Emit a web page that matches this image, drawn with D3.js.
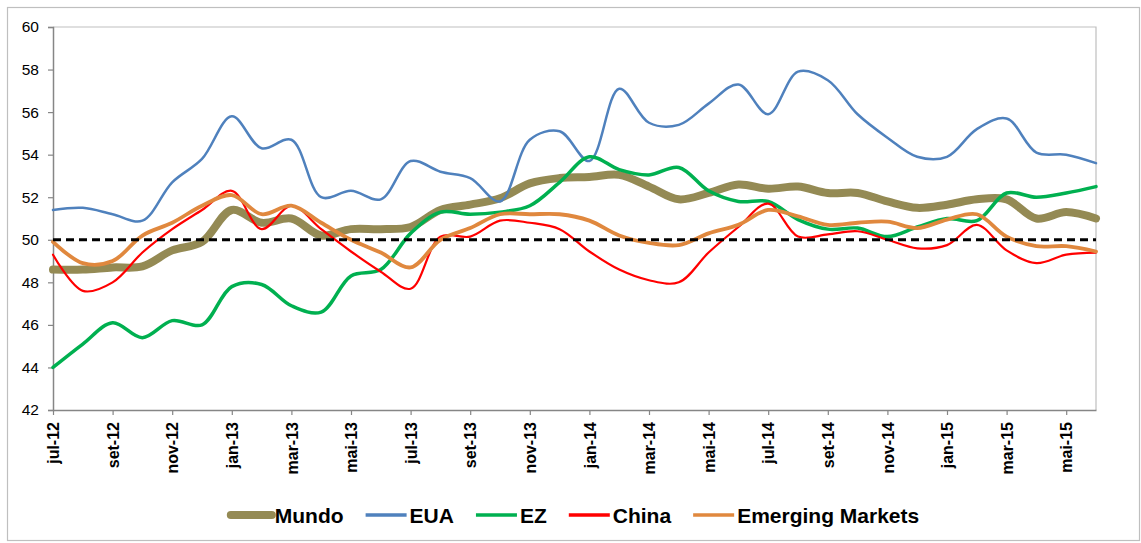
<!DOCTYPE html>
<html>
<head>
<meta charset="utf-8">
<script src="https://cdn.jsdelivr.net/npm/d3@7"></script>
<style>
  body { margin: 0; background: #fff; }
  text { font-family: "Liberation Sans", Arial, sans-serif; }
</style>
</head>
<body>
<div id="chart"></div>
<script>
// meses (jul-12 .. jun-15)
const months = ['jul-12','ago-12','set-12','out-12','nov-12','dez-12',
  'jan-13','fev-13','mar-13','abr-13','mai-13','jun-13','jul-13','ago-13','set-13','out-13','nov-13','dez-13',
  'jan-14','fev-14','mar-14','abr-14','mai-14','jun-14','jul-14','ago-14','set-14','out-14','nov-14','dez-14',
  'jan-15','fev-15','mar-15','abr-15','mai-15','jun-15'];

const mundo = [48.6,48.6,48.7,48.75,49.5,49.9,51.4,50.8,51.0,50.2,50.5,50.5,50.6,51.4,51.65,51.95,52.65,52.9,
  52.95,53.05,52.5,51.9,52.2,52.6,52.4,52.5,52.2,52.2,51.8,51.5,51.65,51.9,51.9,51.0,51.3,51.0];
const eua = [51.4,51.5,51.2,50.9,52.7,53.8,55.8,54.3,54.7,52.0,52.3,51.9,53.7,53.2,52.9,51.8,54.7,55.1,
  53.7,57.1,55.5,55.4,56.4,57.3,55.9,57.9,57.5,55.9,54.8,53.9,53.9,55.2,55.7,54.1,54.0,53.6];
const ez = [44.0,45.1,46.1,45.4,46.2,46.0,47.8,47.9,46.9,46.6,48.3,48.6,50.3,51.3,51.2,51.3,51.6,52.7,
  53.9,53.3,53.05,53.4,52.3,51.8,51.8,50.95,50.5,50.55,50.15,50.6,51.0,50.9,52.2,52.0,52.2,52.5];
const china = [49.3,47.6,48.0,49.4,50.5,51.4,52.3,50.5,51.6,50.5,49.45,48.5,47.7,50.15,50.15,50.9,50.8,50.5,
  49.45,48.6,48.1,48.0,49.4,50.6,51.7,50.15,50.25,50.4,50.0,49.6,49.75,50.7,49.5,48.9,49.3,49.4];
const emerging = [49.9,48.9,49.0,50.2,50.8,51.6,52.1,51.2,51.6,50.8,50.0,49.4,48.7,50.0,50.55,51.2,51.2,51.2,
  50.9,50.2,49.85,49.75,50.3,50.7,51.4,51.1,50.7,50.8,50.85,50.55,50.95,51.2,50.15,49.7,49.7,49.45];

const yTicks = [42,44,46,48,50,52,54,56,58,60];
const threshold = 50;

const seriesNames = ['Mundo','EUA','EZ','China','Emerging Markets'];
const seriesColors = ['#948A54','#4F81BD','#00B050','#FF0000','#E0883E'];
const seriesWidths = [8, 2.5, 3.5, 2.2, 3.8];

const width = 1141, height = 543;
const x0 = 53, x1 = 1096, yTop = 27, yBot = 410;

const svg = d3.select('#chart').append('svg')
  .attr('width', width)
  .attr('height', height);

// chart border
svg.append('rect')
  .attr('x', 7.5).attr('y', 7.5)
  .attr('width', 1132).attr('height', 533)
  .attr('fill', 'none')
  .attr('stroke', '#BFBFBF')
  .attr('stroke-width', 1.2);

const x = d3.scalePoint().domain(months).range([x0, x1]);
const y = d3.scaleLinear().domain([42, 60]).range([yBot, yTop]);

// plot area outline (top / right)
svg.append('path')
  .attr('d', `M${x0},${yTop}H${x1}V${yBot}`)
  .attr('fill', 'none')
  .attr('stroke', '#BFBFBF')
  .attr('stroke-width', 1.2);

// y axis
let yAxis = svg.append('g')
  .attr('transform', 'translate(' + x0 + ',0)')
  .call(d3.axisLeft(y).tickValues(yTicks).tickSize(5).tickPadding(9).tickFormat(d3.format('d')));
yAxis.select('.domain').attr('stroke', '#868686').attr('stroke-width', 1.5);
yAxis.selectAll('.tick line').attr('stroke', '#868686').attr('stroke-width', 1.2);
yAxis.selectAll('text').attr('font-size', 15.5).attr('fill', '#000')
  .style('font-family', '"Liberation Sans", Arial, sans-serif');

// x axis
let labelled = months.filter((d, i) => i % 2 === 0);
let xAxis = svg.append('g')
  .attr('transform', 'translate(0,' + yBot + ')')
  .call(d3.axisBottom(x).tickValues(labelled).tickSize(5).tickSizeOuter(0));
xAxis.select('.domain').attr('stroke', '#868686').attr('stroke-width', 1.5);
xAxis.selectAll('.tick line').attr('stroke', '#868686').attr('stroke-width', 1.2);
xAxis.selectAll('text')
  .attr('font-size', 16)
  .attr('font-weight', 'bold')
  .attr('fill', '#000')
  .style('font-family', '"Liberation Sans", Arial, sans-serif')
  .attr('text-anchor', 'end')
  .attr('transform', 'rotate(-90)')
  .attr('x', -12)
  .attr('y', 0)
  .attr('dy', '0.35em');

// lines
const data = [mundo, eua, ez, china, emerging];
let line = d3.line()
  .x((d, i) => x(months[i]))
  .y(d => y(d))
  .curve(d3.curveCatmullRom.alpha(0.5));

svg.append('g')
  .selectAll('path')
  .data(data)
  .enter().append('path')
  .attr('d', line)
  .attr('fill', 'none')
  .attr('stroke', (d, i) => seriesColors[i])
  .attr('stroke-width', (d, i) => seriesWidths[i])
  .attr('stroke-linejoin', 'round')
  .attr('stroke-linecap', 'round');

// linha 50
svg.append('line')
  .attr('x1', x(months[0])).attr('x2', x(months[months.length - 1]))
  .attr('y1', y(threshold)).attr('y2', y(threshold))
  .attr('stroke', '#000')
  .attr('stroke-width', 3)
  .attr('stroke-dasharray', '8,5');

// legend
let legend = svg.append('g').attr('transform', 'translate(0,515)');
let items = legend.selectAll('g')
  .data(seriesNames)
  .enter().append('g');

items.append('line')
  .attr('x1', 0).attr('x2', 41)
  .attr('stroke', (d, i) => seriesColors[i])
  .attr('stroke-width', (d, i) => i === 0 ? 8 : 3.5)
  .attr('stroke-linecap', (d, i) => i === 0 ? 'round' : 'butt');

items.append('text')
  .attr('x', 44)
  .attr('dy', '0.36em')
  .attr('font-size', 21)
  .attr('font-weight', 'bold')
  .attr('fill', '#000')
  .text(d => d);

let gap = 22, pos = 0, offsets = [];
items.each(function () {
  offsets.push(pos);
  pos += 44 + d3.select(this).select('text').node().getComputedTextLength() + gap;
});
let total = pos - gap;
let start = 575 - total / 2;
items.attr('transform', (d, i) => 'translate(' + (start + offsets[i]) + ',0)');
</script>
</body>
</html>
